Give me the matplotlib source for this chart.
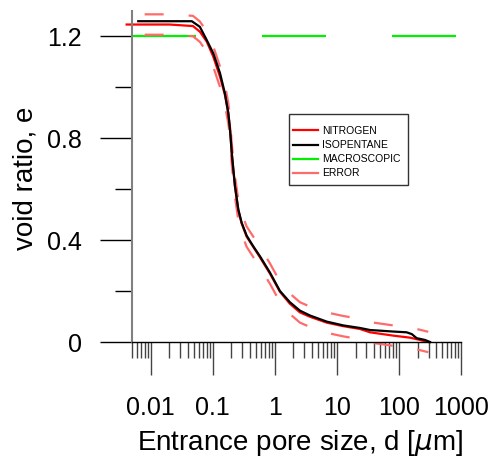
import matplotlib
matplotlib.use("Agg")
import matplotlib.pyplot as plt
from matplotlib.lines import Line2D
from matplotlib.patches import Rectangle
from matplotlib.ticker import LogLocator, FixedLocator, NullFormatter
import numpy as np

plt.rcParams['font.family'] = ['Liberation Sans', 'DejaVu Sans']
plt.rcParams['lines.scale_dashes'] = False

# ---- data ----
nitrogen_d = [0.0041, 0.02, 0.048, 0.062, 0.080, 0.102, 0.131, 0.157, 0.178, 0.190, 0.202,
              0.228, 0.258, 0.292, 0.352, 0.450, 0.577, 0.836, 1.21, 1.75, 2.54, 3.68,
              6.85, 12.7, 23.6, 34.2, 81, 151, 218, 297]
nitrogen_e = [1.245, 1.245, 1.239, 1.217, 1.178, 1.119, 1.040, 0.969, 0.898, 0.840, 0.740,
              0.609, 0.518, 0.465, 0.413, 0.373, 0.332, 0.268, 0.197, 0.150, 0.116, 0.099,
              0.076, 0.062, 0.051, 0.038, 0.025, 0.017, 0.008, 0.0]

isopentane_d = [0.0063, 0.046, 0.062, 0.080, 0.102, 0.131, 0.157, 0.178, 0.190, 0.202,
                0.228, 0.258, 0.292, 0.352, 0.450, 0.577, 0.836, 1.21, 1.75, 2.54, 3.68,
                6.85, 12.7, 23.6, 34.2, 81, 133, 161, 193, 263, 317]
isopentane_e = [1.258, 1.258, 1.236, 1.184, 1.132, 1.054, 0.975, 0.898, 0.831, 0.745,
                0.612, 0.520, 0.468, 0.417, 0.375, 0.336, 0.272, 0.200, 0.156, 0.123, 0.104,
                0.080, 0.065, 0.055, 0.047, 0.041, 0.038, 0.031, 0.015, 0.008, 0.0]

macro_d = [0.005, 1000]
macro_e = [1.2, 1.2]

error_band = 0.04

y_major = [0, 0.4, 0.8, 1.2]
y_major_labels = ['0', '0.4', '0.8', '1.2']
y_minor = [0.2, 0.6, 1.0]
x_major = [0.01, 0.1, 1, 10, 100, 1000]
x_major_labels = ['0.01', '0.1', '1', '10', '100', '1000']

# ---- figure ----
W, H = 493, 457
fig = plt.figure(figsize=(W / 100, H / 100), dpi=100)
ax = fig.add_axes([132 / W, 1 - 342 / H, (461 - 132) / W, (342 - 10.5) / H])
ax.set_xscale('log')
ax.set_xlim(0.005, 1000)
ax.set_ylim(0, 1.3)

px = 0.72  # points per pixel
RED = '#ff0000'
GREEN = '#00f000'
ERR = '#ff6b6b'

ax.plot(macro_d, macro_e, color=GREEN, lw=1.6, linestyle=(0, (64 * px, 66 * px)), clip_on=False)
nd = np.array(nitrogen_d)
ne = np.array(nitrogen_e)
err_ls = (26 * px, (19 * px, 25 * px))
ax.plot(nd, ne + error_band, color=ERR, lw=1.6, linestyle=err_ls, clip_on=False)
ax.plot(nd, ne - error_band, color=ERR, lw=1.6, linestyle=err_ls, clip_on=False)
ax.plot(nitrogen_d, nitrogen_e, color=RED, lw=1.6, clip_on=False)
ax.plot(isopentane_d, isopentane_e, color='black', lw=1.6, clip_on=False)

for s in ['top', 'right']:
    ax.spines[s].set_visible(False)
ax.spines['left'].set_color('#808080')
ax.spines['left'].set_linewidth(1.5)
ax.spines['bottom'].set_color('black')
ax.spines['bottom'].set_linewidth(1.0)

ax.yaxis.set_major_locator(FixedLocator(y_major))
ax.set_yticklabels(y_major_labels)
ax.yaxis.set_minor_locator(FixedLocator(y_minor))
ax.xaxis.set_major_locator(FixedLocator(x_major))
ax.set_xticklabels(x_major_labels)
ax.xaxis.set_minor_locator(LogLocator(base=10, subs=np.arange(2, 10) / 1.0, numticks=20))
ax.xaxis.set_minor_formatter(NullFormatter())

ax.tick_params(axis='y', which='major', direction='out', length=32 * px, width=1, color='black',
               labelsize=18, pad=13)
ax.tick_params(axis='y', which='minor', direction='out', length=17 * px, width=1, color='black')
ax.tick_params(axis='x', which='major', direction='out', length=33 * px, width=1, color='#444444',
               labelsize=18, pad=15)
ax.tick_params(axis='x', which='minor', direction='out', length=16 * px, width=1, color='#444444')

fig.text(300 / W, 1 - 443 / H, r'Entrance pore size, d [$\mu$m]', fontsize=20,
         ha='center', va='center')
fig.text(25 / W, 1 - 178 / H, 'void ratio, e', fontsize=20, rotation=90,
         ha='center', va='center')

# legend frame
fig.patches.append(Rectangle((289 / W, 1 - 185 / H), (408 - 289) / W, (185 - 114) / H,
                             transform=fig.transFigure, facecolor='white',
                             edgecolor='#333333', linewidth=1.0, zorder=5))

handles = [Line2D([], [], color=RED, lw=1.6),
           Line2D([], [], color='black', lw=1.6),
           Line2D([], [], color=GREEN, lw=1.6),
           Line2D([], [], color=ERR, lw=1.6)]
labels = ['NITROGEN', 'ISOPENTANE', 'MACROSCOPIC', 'ERROR']
leg = fig.legend(handles, labels, loc='upper left', bbox_to_anchor=(293 / W, 1 - 126 / H),
                 fontsize=7.5, frameon=False, handlelength=2.4,
                 handletextpad=0.4, labelspacing=0.4, borderpad=0, borderaxespad=0)
leg.set_zorder(6)

fig.savefig('out.png', dpi=100)
